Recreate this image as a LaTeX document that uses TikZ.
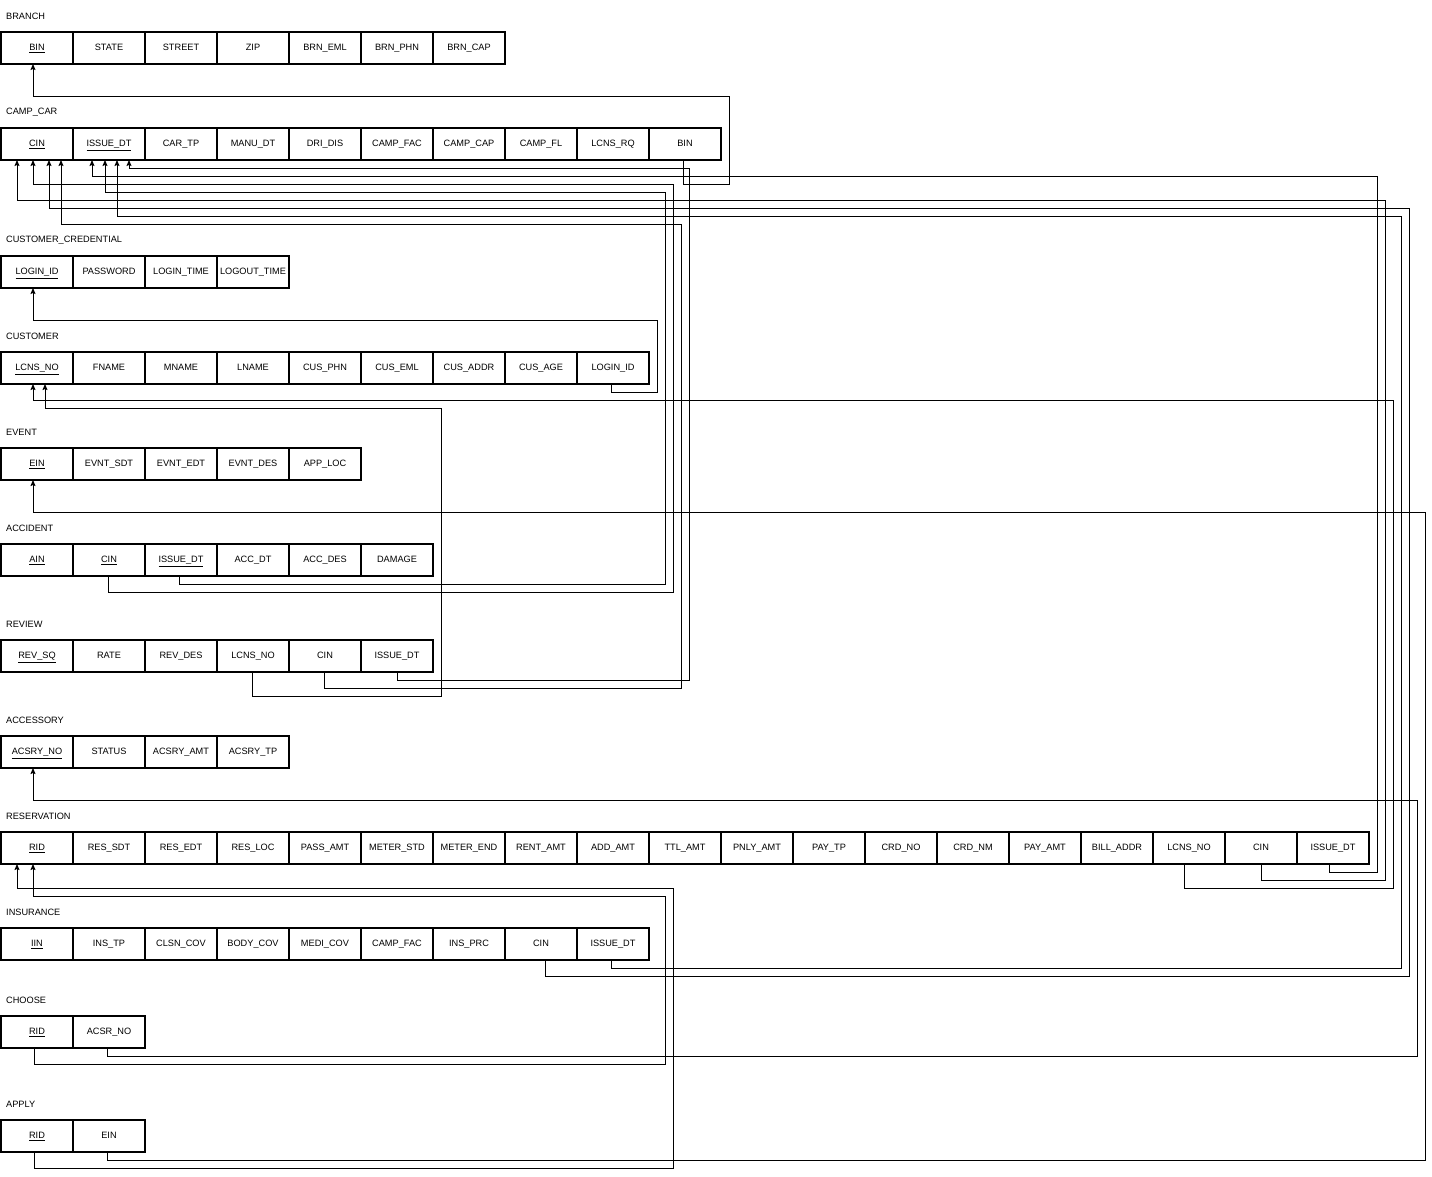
\documentclass[tikz,border=0pt]{standalone}
\usepackage{fontspec}
\setmainfont{Liberation Sans}
\usetikzlibrary{arrows.meta}

\tikzset{
  cell/.style={draw, line width=1.2pt, minimum width=72pt, minimum height=32pt,
    inner sep=0pt, outer sep=0pt, text height=7pt, text depth=2pt,
    font=\fontsize{9.2}{11}\selectfont},
  tblname/.style={anchor=west, inner sep=0pt, font=\fontsize{9.2}{11}\selectfont},
  fk/.style={-{Stealth[length=6pt,width=5pt,inset=1pt]}, line width=0.9pt},
}

\begin{document}
\begin{tikzpicture}[x=1pt,y=-1pt]
    \useasboundingbox (-1,0) rectangle (1431,1176);

    % table names
    \node[tblname] (tBranch) at (5,16) {BRANCH};
    \node[tblname] (tCamp) at (5,112) {CAMP\_CAR};
    \node[tblname] (tCred) at (5,240) {CUSTOMER\_CREDENTIAL};
    \node[tblname] (tCust) at (5,336) {CUSTOMER};
    \node[tblname] (tEvent) at (5,432) {EVENT};
    \node[tblname] (tAcc) at (5,528) {ACCIDENT};
    \node[tblname] (tRev) at (5,624) {REVIEW};
    \node[tblname] (tAcsry) at (5,720) {ACCESSORY};
    \node[tblname] (tRes) at (5,816) {RESERVATION};
    \node[tblname] (tIns) at (5,912) {INSURANCE};
    \node[tblname] (tChoose) at (5,1000) {CHOOSE};
    \node[tblname] (tApply) at (5,1104) {APPLY};

    % table rows
    \foreach \t [count=\i] in {\underline{BIN},STATE,STREET,ZIP,BRN\_EML,BRN\_PHN,BRN\_CAP}
      \node[cell] (branch\i) at ({72*\i-36},48) {\t};
    \foreach \t [count=\i] in {\underline{CIN},\underline{ISSUE\_DT},CAR\_TP,MANU\_DT,DRI\_DIS,CAMP\_FAC,CAMP\_CAP,CAMP\_FL,LCNS\_RQ,BIN}
      \node[cell] (camp\i) at ({72*\i-36},144) {\t};
    \foreach \t [count=\i] in {\underline{LOGIN\_ID},PASSWORD,LOGIN\_TIME,LOGOUT\_TIME}
      \node[cell] (cred\i) at ({72*\i-36},272) {\t};
    \foreach \t [count=\i] in {\underline{LCNS\_NO},FNAME,MNAME,LNAME,CUS\_PHN,CUS\_EML,CUS\_ADDR,CUS\_AGE,LOGIN\_ID}
      \node[cell] (cust\i) at ({72*\i-36},368) {\t};
    \foreach \t [count=\i] in {\underline{EIN},EVNT\_SDT,EVNT\_EDT,EVNT\_DES,APP\_LOC}
      \node[cell] (event\i) at ({72*\i-36},464) {\t};
    \foreach \t [count=\i] in {\underline{AIN},\underline{CIN},\underline{ISSUE\_DT},ACC\_DT,ACC\_DES,DAMAGE}
      \node[cell] (acc\i) at ({72*\i-36},560) {\t};
    \foreach \t [count=\i] in {\underline{REV\_SQ},RATE,REV\_DES,LCNS\_NO,CIN,ISSUE\_DT}
      \node[cell] (rev\i) at ({72*\i-36},656) {\t};
    \foreach \t [count=\i] in {\underline{ACSRY\_NO},STATUS,ACSRY\_AMT,ACSRY\_TP}
      \node[cell] (acsry\i) at ({72*\i-36},752) {\t};
    \foreach \t [count=\i] in {\underline{RID},RES\_SDT,RES\_EDT,RES\_LOC,PASS\_AMT,METER\_STD,METER\_END,RENT\_AMT,ADD\_AMT,TTL\_AMT,PNLY\_AMT,PAY\_TP,CRD\_NO,CRD\_NM,PAY\_AMT,BILL\_ADDR,LCNS\_NO,CIN,ISSUE\_DT}
      \node[cell] (res\i) at ({72*\i-36},848) {\t};
    \foreach \t [count=\i] in {\underline{IIN},INS\_TP,CLSN\_COV,BODY\_COV,MEDI\_COV,CAMP\_FAC,INS\_PRC,CIN,ISSUE\_DT}
      \node[cell] (ins\i) at ({72*\i-36},944) {\t};
    \foreach \t [count=\i] in {\underline{RID},ACSR\_NO}
      \node[cell] (choose\i) at ({72*\i-36},1032) {\t};
    \foreach \t [count=\i] in {\underline{RID},EIN}
      \node[cell] (apply\i) at ({72*\i-36},1136) {\t};

    % foreign keys
    \draw[fk] ([xshift=-2]camp10.south) -- ++(0,24) -| (728,96) -| ([xshift=-4]branch1.south);
    \draw[fk] ([xshift=-2]acc3.south) |- (664,584) -- (664,192) -| ([xshift=-4]camp2.south);
    \draw[fk] ([xshift=-1]acc2.south) |- (672,592) -- (672,184) -| ([xshift=-4]camp1.south);
    \draw[fk] (rev6.south) |- (688,680) -- (688,168) -| ([xshift=20]camp2.south);
    \draw[fk] ([xshift=-1]rev5.south) |- (680,688) -- (680,224) -| ([xshift=24]camp1.south);
    \draw[fk] ([xshift=-1]rev4.south) |- (440,696) -- (440,408) -| ([xshift=8]cust1.south);
    \draw[fk] ([xshift=-5]res17.south) |- (1392,888) -- (1392,400) -| ([xshift=-4]cust1.south);
    \draw[fk] (res18.south) |- (1384,880) -- (1384,200) -| ([xshift=-20]camp1.south);
    \draw[fk] ([xshift=-4]res19.south) |- (1376,872) -- (1376,176) -| ([xshift=-17]camp2.south);
    \draw[fk] ([xshift=4]ins8.south) |- (1408,976) -- (1408,208) -| ([xshift=12]camp1.south);
    \draw[fk] ([xshift=-2]ins9.south) |- (1400,968) -- (1400,216) -| ([xshift=8]camp2.south);
    \draw[fk] ([xshift=-2]cust9.south) |- (656,392) -- (656,320) -| ([xshift=-4]cred1.south);
    \draw[fk] ([xshift=-2]apply2.south) |- (1424,1160) -- (1424,512) -| ([xshift=-4]event1.south);
    \draw[fk] ([xshift=-2]choose2.south) |- (1416,1056) -- (1416,800) -| ([xshift=-4]acsry1.south);
    \draw[fk] ([xshift=-3]choose1.south) |- (664,1064) -- (664,896) -| ([xshift=-4]res1.south);
    \draw[fk] ([xshift=-3]apply1.south) |- (672,1168) -- (672,888) -| ([xshift=-20]res1.south);

\end{tikzpicture}
\end{document}
